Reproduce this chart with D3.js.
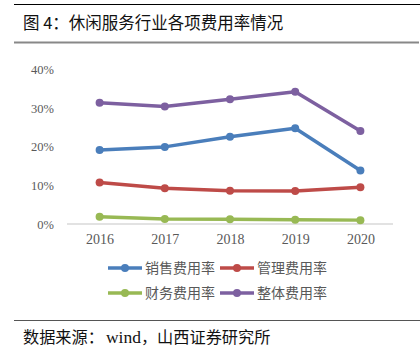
<!DOCTYPE html>
<html><head><meta charset="utf-8">
<script src="https://cdn.jsdelivr.net/npm/d3@7/dist/d3.min.js"></script>
<style>body{margin:0;background:#fff}svg{display:block}</style>
</head><body>
<script>
const years = ["2016","2017","2018","2019","2020"];
const seriesNames = ["销售费用率","管理费用率","财务费用率","整体费用率"];
const sales = [19.1, 19.9, 22.5, 24.7, 13.8];
const admin = [10.7, 9.2, 8.6, 8.5, 9.5];
const finance = [1.9, 1.3, 1.2, 1.1, 1.0];
const total = [31.3, 30.3, 32.2, 34.1, 24.0];
const yTicks = [0, 10, 20, 30, 40];
const colors = ["#4a7ebb", "#be4b48", "#98b954", "#7d60a0"];
const series = [sales, admin, finance, total];

const W = 420, H = 349;
const svg = d3.select("body").append("svg").attr("width", W).attr("height", H);
const cjk = "'Noto Sans CJK SC', sans-serif";
const serif = "'Liberation Serif', 'DejaVu Serif', serif";

// header / footer
svg.append("line").attr("x1",14).attr("x2",420).attr("y1",4.5).attr("y2",4.5).attr("stroke","#000").attr("stroke-width",1);
svg.append("text").attr("x",23).attr("y",29).attr("font-family",cjk).attr("font-size",16.5).attr("fill","#111").text("图 4：休闲服务行业各项费用率情况");
svg.append("line").attr("x1",14).attr("x2",419).attr("y1",42.5).attr("y2",42.5).attr("stroke","#888").attr("stroke-width",2);
svg.append("line").attr("x1",14).attr("x2",420).attr("y1",320.5).attr("y2",320.5).attr("stroke","#555").attr("stroke-width",1);
const ft = svg.append("text").attr("x",23).attr("y",343).attr("font-family",cjk).attr("font-size",16.2).attr("fill","#111");
ft.append("tspan").text("数据来源：");
ft.append("tspan").attr("font-family",serif).attr("font-size",17.5).attr("dx",2).text("wind");
ft.append("tspan").text("，山西证券研究所");

const x = d3.scalePoint().domain(years).range([67, 393]).padding(0.5);
const y = d3.scaleLinear().domain([0, 40]).range([224, 69]);

// y axis labels
const ya = svg.append("g").attr("transform","translate(54,0)")
  .call(d3.axisLeft(y).tickValues(yTicks).tickSize(0).tickPadding(0).tickFormat(d => d + "%"));
ya.select(".domain").remove();
ya.selectAll("text").attr("font-family",serif).attr("font-size",12.5).attr("fill","#595959").attr("dy","0.35em");

// x axis
const xa = svg.append("g").attr("transform","translate(0,224)")
  .call(d3.axisBottom(x).tickSize(0).tickPadding(10));
xa.select(".domain").attr("stroke","#d9d9d9").attr("stroke-width",1.5).attr("d","M67,0H393");
xa.selectAll("text").attr("font-family",serif).attr("font-size",14).attr("fill","#595959");

const line = d3.line().x((d,i) => x(years[i])).y(d => y(d));
const order = [2,1,0,3];
order.forEach(k => {
  const g = svg.append("g");
  g.append("path").datum(series[k]).attr("d", line).attr("fill","none")
    .attr("stroke", colors[k]).attr("stroke-width",3.5).attr("stroke-linejoin","round");
  g.selectAll("circle").data(series[k]).join("circle")
    .attr("cx",(d,i)=>x(years[i])).attr("cy",d=>y(d)).attr("r",4).attr("fill",colors[k]);
});

// legend
const legPos = [[108,268],[220,268],[108,293],[220,293]];
seriesNames.forEach((n,k) => {
  const [lx,ly] = legPos[k];
  const g = svg.append("g").attr("transform",`translate(${lx},${ly})`);
  g.append("line").attr("x1",0).attr("x2",34).attr("stroke",colors[k]).attr("stroke-width",3.5);
  g.append("circle").attr("cx",17).attr("r",4).attr("fill",colors[k]);
  g.append("text").attr("x",37).attr("dy","0.35em").attr("font-family",cjk).attr("font-size",14).attr("fill","#595959").text(n);
});
</script>
</body></html>
